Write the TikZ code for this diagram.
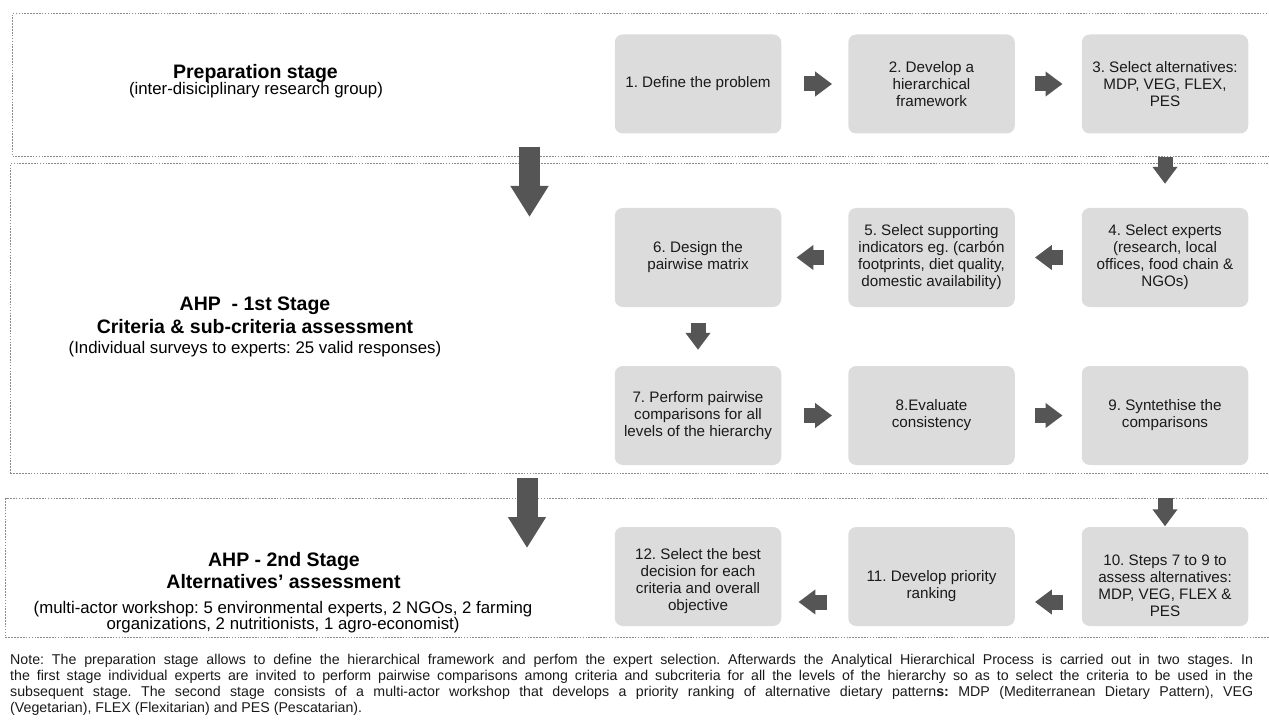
\documentclass[tikz,border=0pt]{standalone}
\usepackage{fontspec}
\setmainfont{Liberation Sans}
\usetikzlibrary{arrows.meta}
\definecolor{boxgray}{HTML}{DCDCDC}
\definecolor{arrgray}{HTML}{555555}
\definecolor{framegray}{HTML}{8A8A8A}
\definecolor{txt}{HTML}{1A1A1A}
\begin{document}
\frenchspacing
\begin{tikzpicture}[x=1pt,y=-1pt,
  stepbox/.style={fill=boxgray, rounded corners=8pt, minimum width=166.5pt, minimum height=99pt, inner sep=0pt, align=center, text=txt, font=\fontsize{15.2}{17}\selectfont},
  boxtext/.style={align=center, inner sep=0pt, text=txt, font=\fontsize{15.2}{17}\selectfont},
  frame/.style={draw=framegray, line width=1.1pt, dash pattern=on 1.6pt off 1.3pt, anchor=north west, inner sep=0pt},
  head/.style={anchor=base, inner sep=0pt, font=\fontsize{19.5}{23}\selectfont\bfseries, text=black},
  sub/.style={anchor=base, inner sep=0pt, font=\fontsize{16.8}{18}\selectfont, text=black},
  smallarr/.style={draw=arrgray, line width=15pt, -{Triangle[width=24pt,length=17pt]}},
  bigarr/.style={draw=arrgray, line width=21pt, -{Triangle[width=36pt,length=31pt]}},
  note/.style={anchor=base west, inner sep=0pt, font=\fontsize{14.2}{15.8}\selectfont, text=txt}]
\useasboundingbox (0,0) rectangle (1269,722);

% stage frames
\node[frame, minimum width=1262pt, minimum height=143pt] (f1) at (12,13) {};
\node[frame, minimum width=1264pt, minimum height=310pt] (f2) at (10,163) {};
\node[frame, minimum width=1269pt, minimum height=139pt] (f3) at (5,498) {};

% stage titles
\node[head] (prepT) at (255.5,78.5) {Preparation stage};
\node[sub]  (prepS) at (256,95) {(inter-disiciplinary research group)};
\node[head] (ahpAa) at (255,310) {AHP\ \ - 1st Stage};
\node[head] (ahpAb) at (255,333) {Criteria \& sub-criteria assessment};
\node[sub]  (ahpAc) at (255,353) {(Individual surveys to experts: 25 valid responses)};
\node[head] (ahpBa) at (284,566) {AHP - 2nd Stage};
\node[head] (ahpBb) at (283.5,588) {Alternatives' assessment};
\node[sub]  (ahpBc) at (283,613) {(multi-actor workshop: 5 environmental experts, 2 NGOs, 2 farming};
\node[sub]  (ahpBd) at (283,629) {organizations, 2 nutritionists, 1 agro-economist)};

% step boxes
\node[stepbox] (b1) at (698,84) {1. Define the problem};
\node[stepbox] (b2) at (931.5,84) {2. Develop a\\hierarchical\\framework};
\node[stepbox] (b3) at (1165,84) {3. Select alternatives:\\MDP, VEG, FLEX,\\PES};
\node[stepbox] (b4) at (1165,257.5) {4. Select experts\\(research, local\\offices, food chain \&\\NGOs)};
\node[stepbox] (b5) at (931.5,257.5) {5. Select supporting\\indicators eg. (carbón\\footprints, diet quality,\\domestic availability)};
\node[stepbox] (b6) at (698,257.5) {6. Design the\\pairwise matrix};
\node[stepbox] (b7) at (698,415.5) {7. Perform pairwise\\comparisons for all\\levels of the hierarchy};
\node[stepbox] (b8) at (931.5,415.5) {8.Evaluate\\consistency};
\node[stepbox] (b9) at (1165,415.5) {9. Syntethise the\\comparisons};
\node[stepbox] (b10) at (1165,576.5) {};
\node[stepbox] (b11) at (931.5,576.5) {};
\node[stepbox] (b12) at (698,576.5) {};
\node[boxtext] (t10) at ([yshift=-9.5pt]b10.center) {10. Steps 7 to 9 to\\assess alternatives:\\MDP, VEG, FLEX \&\\PES};
\node[boxtext] (t11) at ([yshift=-10pt]b11.center) {11. Develop priority\\ranking};
\node[boxtext] (t12) at ([yshift=-5pt]b12.center) {12. Select the best\\decision for each\\criteria and overall\\objective};

% small block arrows
\draw[smallarr, shorten <=23pt, shorten >=16pt] (b1) -- (b2);
\draw[smallarr, shorten <=20pt, shorten >=19pt] (b2) -- (b3);
\draw[smallarr, shorten <=23.5pt, shorten >=24pt] (b3) -- (b4);
\draw[smallarr, shorten <=19pt, shorten >=20pt] (b4) -- (b5);
\draw[smallarr, shorten <=24pt, shorten >=15pt] (b5) -- (b6);
\draw[smallarr, shorten <=16pt, shorten >=16pt] (b6) -- (b7);
\draw[smallarr, shorten <=23pt, shorten >=16pt] (b7) -- (b8);
\draw[smallarr, shorten <=20pt, shorten >=19pt] (b8) -- (b9);
\draw[smallarr, shorten <=33pt, shorten >=0.5pt] (b9) -- (b10);
\draw[smallarr, shorten <=19pt, shorten >=20pt] ([yshift=-25.5pt]b10.west) -- ([yshift=-25.5pt]b11.east);
\draw[smallarr, shorten <=21.5pt, shorten >=17pt] ([yshift=-25.5pt]b11.west) -- ([yshift=-25.5pt]b12.east);

% big stage arrows
\coordinate (baAs) at (529.5,147);
\coordinate (baAe) at (529.5,217);
\coordinate (baBs) at (527,478);
\coordinate (baBe) at (527,548);
\draw[bigarr] (baAs) -- (baAe);
\draw[bigarr] (baBs) -- (baBe);

% note
\node[note] (n1) at (10,664) {\makebox[1243pt][s]{Note: The preparation stage allows to define the hierarchical framework and perfom the expert selection. Afterwards the Analytical Hierarchical Process is carried out in two stages. In}};
\node[note] (n2) at (10,680) {\makebox[1243pt][s]{the first stage individual experts are invited to perform pairwise comparisons among criteria and subcriteria for all the levels of the hierarchy so as to select the criteria to be used in the}};
\node[note] (n3) at (10,696) {\makebox[1243pt][s]{subsequent stage. The second stage consists of a multi-actor workshop that develops a priority ranking of alternative dietary pattern\textbf{s:} MDP (Mediterranean Dietary Pattern), VEG}};
\node[note] (n4) at (10,712) {(Vegetarian), FLEX (Flexitarian) and PES (Pescatarian).};
\end{tikzpicture}
\end{document}
